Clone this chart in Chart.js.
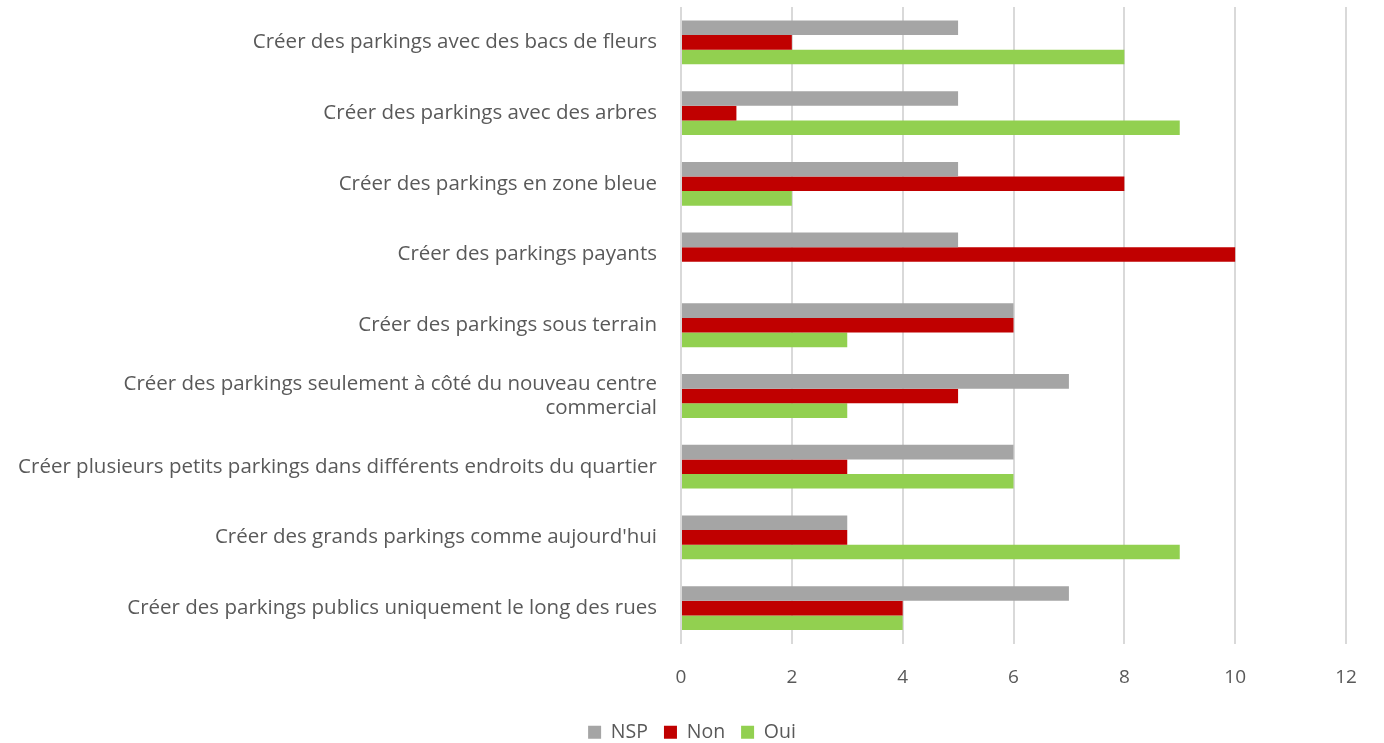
<!DOCTYPE html>
<html>
<head>
<meta charset="utf-8">
<script src="https://cdn.jsdelivr.net/npm/chart.js@4"></script>
<style>
  html, body { margin: 0; padding: 0; background: #fff; }
  #wrap { width: 1384px; height: 743px; }
</style>
</head>
<body>
<div id="wrap"><canvas id="chart" width="1384" height="743"></canvas></div>
<script>
const categories = [
  "Créer des parkings avec des bacs de fleurs",
  "Créer des parkings avec des arbres",
  "Créer des parkings en zone bleue",
  "Créer des parkings payants",
  "Créer des parkings sous terrain",
  ["Créer des parkings seulement à côté du nouveau centre", "commercial"],
  "Créer plusieurs petits parkings dans différents endroits du quartier",
  "Créer des grands parkings comme aujourd'hui",
  "Créer des parkings publics uniquement le long des rues"
];
const nsp = [5, 5, 5, 5, 6, 7, 6, 3, 7];
const non = [2, 1, 8, 10, 6, 5, 3, 3, 4];
const oui = [8, 9, 2, 0, 3, 3, 6, 9, 4];
const xTicks = [0, 2, 4, 6, 8, 10, 12];

const font = "'Open Sans', 'DejaVu Sans', sans-serif";

// the long labels run into the left padding, so widen the y label clip box
const unclipLabels = {
  id: 'unclipLabels',
  afterLayout(chart) { chart.scales.y.left = 0; }
};

new Chart(document.getElementById("chart"), {
  type: 'bar',
  data: {
    labels: categories,
    datasets: [
      { label: 'NSP', data: nsp, backgroundColor: '#A5A5A5' },
      { label: 'Non', data: non, backgroundColor: '#C00000' },
      { label: 'Oui', data: oui, backgroundColor: '#92D050' }
    ]
  },
  options: {
    indexAxis: 'y',
    responsive: false,
    animation: false,
    categoryPercentage: 0.62,
    barPercentage: 1,
    layout: { autoPadding: false, padding: { top: 7, right: 38, bottom: -9, left: 38 } },
    scales: {
      x: {
        min: 0, max: 12,
        afterBuildTicks: s => { s.ticks = xTicks.map(v => ({ value: v })); },
        afterFit: s => { s.height = 63; },
        grid: { color: '#D9D9D9', lineWidth: 2, drawTicks: false },
        border: { display: false },
        ticks: { color: '#595959', font: { family: font, size: 19 }, padding: 23 }
      },
      y: {
        afterFit: s => { s.width = 643; s.paddingTop = 0; s.paddingBottom = 0; },
        grid: { display: false },
        border: { display: false },
        ticks: { color: '#595959', font: { family: font, size: 20.5 }, padding: 16, autoSkip: false }
      }
    },
    plugins: {
      legend: {
        position: 'bottom',
        labels: {
          color: '#595959',
          font: { family: font, size: 19.5 },
          boxWidth: 13, boxHeight: 13, padding: 16
        }
      },
      tooltip: { enabled: false }
    }
  },
  plugins: [unclipLabels]
});
</script>
</body>
</html>
